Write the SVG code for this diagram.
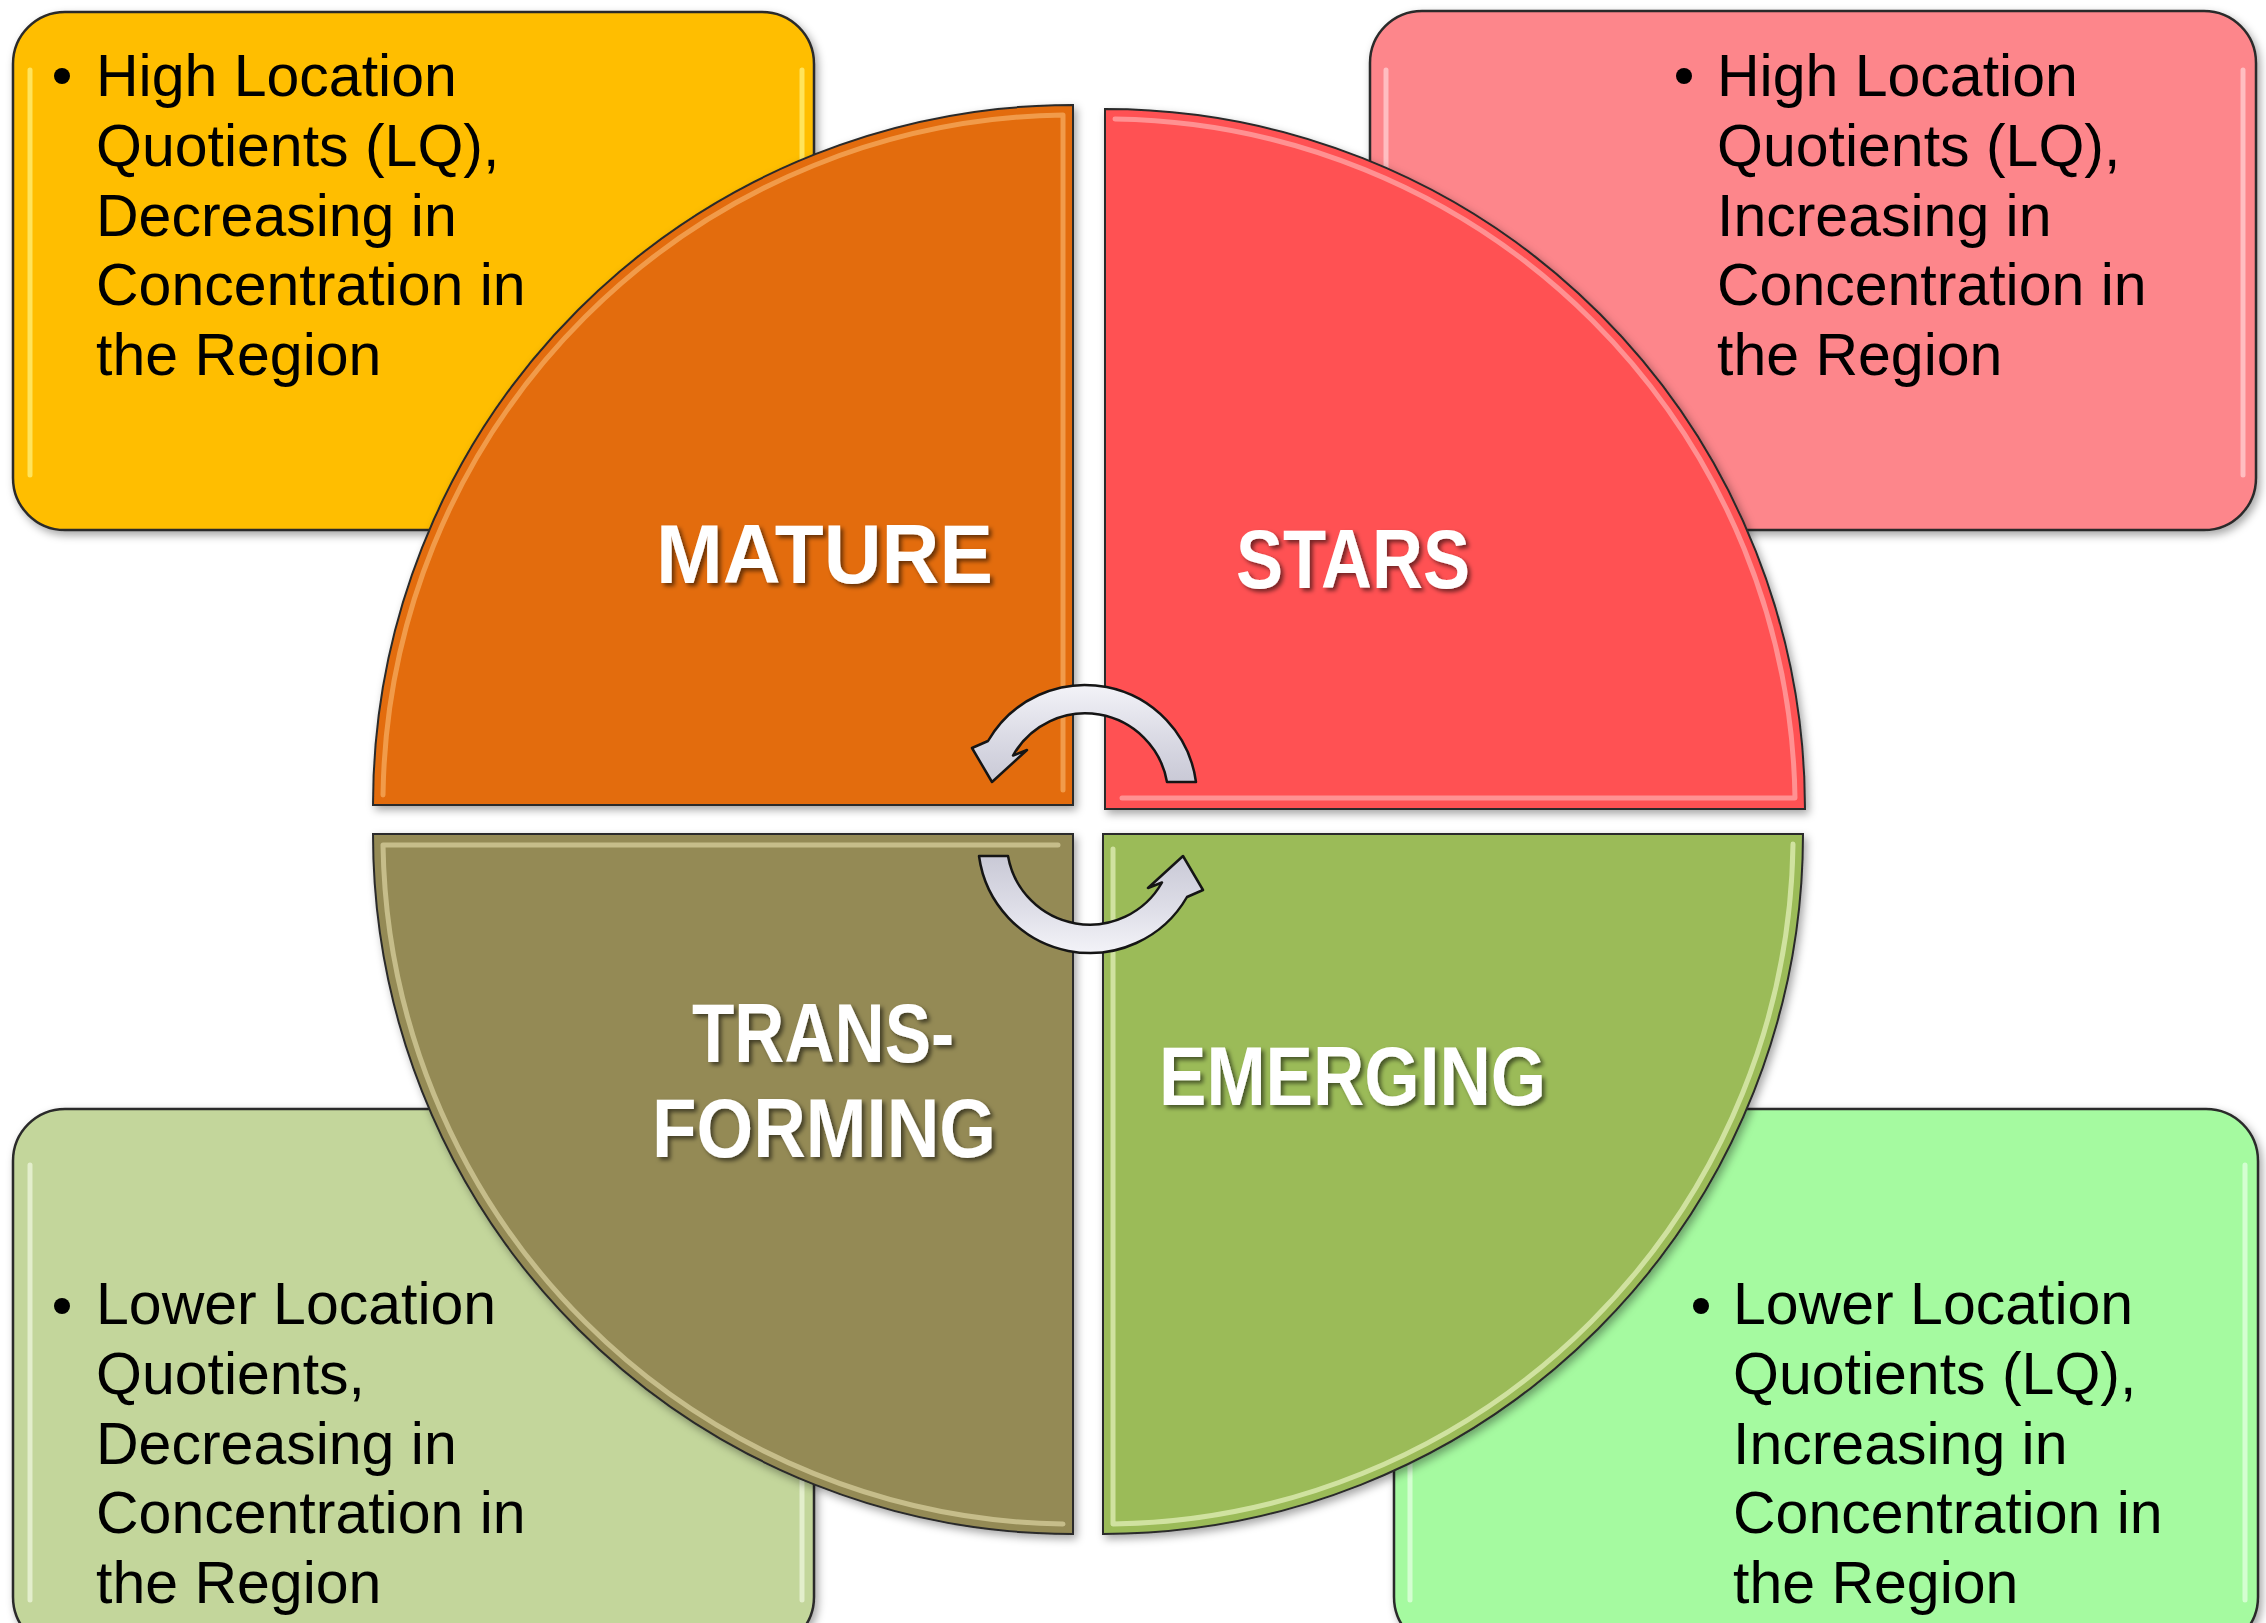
<svg xmlns="http://www.w3.org/2000/svg" width="2266" height="1623" viewBox="0 0 2266 1623">
<defs>
<filter id="shadow" x="-5%" y="-5%" width="110%" height="110%">
<feDropShadow dx="3" dy="4" stdDeviation="4" flood-color="#000" flood-opacity="0.35"/>
</filter>
<filter id="tshadow" x="-10%" y="-20%" width="120%" height="140%">
<feDropShadow dx="3" dy="3" stdDeviation="2" flood-color="#000" flood-opacity="0.55"/>
</filter>
<linearGradient id="arrowGrad" x1="0" y1="0" x2="0" y2="1">
<stop offset="0" stop-color="#f3f3f8"/>
<stop offset="0.5" stop-color="#dcdce6"/>
<stop offset="1" stop-color="#c9c9d6"/>
</linearGradient>
</defs>
<style>
.box{stroke:#2a2a2a;stroke-width:2.5}
.hl{fill:none;stroke-width:5;stroke-linecap:round;opacity:0.75}
.q{stroke:#2a2a2a;stroke-width:2}
.qhl{fill:none;stroke-width:5;opacity:0.65;stroke-linejoin:round;stroke-linecap:round}
.bt{font-family:"Liberation Sans",Arial,sans-serif;font-size:59px;fill:#000}
.lbl{font-family:"Liberation Sans",Arial,sans-serif;font-size:84px;font-weight:bold;fill:#fff}
.arrow{fill:url(#arrowGrad);stroke:#151515;stroke-width:2.5;stroke-linejoin:round}
</style>
<rect width="2266" height="1623" fill="#fff"/>

<g id="box-top-left" filter="url(#shadow)">
<rect class="box" x="13" y="12" width="801" height="518" rx="52" fill="#FFBE00"/>
<line class="hl" x1="30" y1="70" x2="30" y2="475" stroke="#fff07a"/>
<line class="hl" x1="802" y1="70" x2="802" y2="475" stroke="#fff07a"/>
</g>
<g id="box-top-right" filter="url(#shadow)">
<rect class="box" x="1370" y="11" width="886" height="519" rx="52" fill="#FD868B"/>
<line class="hl" x1="1386" y1="70" x2="1386" y2="475" stroke="#ffd0d3"/>
<line class="hl" x1="2243" y1="70" x2="2243" y2="475" stroke="#ffd0d3"/>
</g>
<g id="box-bottom-left" filter="url(#shadow)">
<rect class="box" x="13" y="1109" width="801" height="540" rx="52" fill="#C3D69B"/>
<line class="hl" x1="30" y1="1165" x2="30" y2="1600" stroke="#eef5dc"/>
<line class="hl" x1="802" y1="1165" x2="802" y2="1600" stroke="#eef5dc"/>
</g>
<g id="box-bottom-right" filter="url(#shadow)">
<rect class="box" x="1394" y="1109" width="864" height="540" rx="52" fill="#A5FAA0"/>
<line class="hl" x1="1410" y1="1165" x2="1410" y2="1600" stroke="#e4ffe2"/>
<line class="hl" x1="2245" y1="1165" x2="2245" y2="1600" stroke="#e4ffe2"/>
</g>

<g id="text-top-left">
<circle cx="62" cy="76" r="8" fill="#000"/>
<text class="bt" x="96" y="96">High Location</text>
<text class="bt" x="96" y="166">Quotients (LQ),</text>
<text class="bt" x="96" y="236">Decreasing in</text>
<text class="bt" x="96" y="305">Concentration in</text>
<text class="bt" x="96" y="375">the Region</text>
</g>
<g id="text-top-right">
<circle cx="1684" cy="76" r="8" fill="#000"/>
<text class="bt" x="1717" y="96">High Location</text>
<text class="bt" x="1717" y="166">Quotients (LQ),</text>
<text class="bt" x="1717" y="236">Increasing in</text>
<text class="bt" x="1717" y="305">Concentration in</text>
<text class="bt" x="1717" y="375">the Region</text>
</g>
<g id="text-bottom-left">
<circle cx="62" cy="1306" r="8" fill="#000"/>
<text class="bt" x="96" y="1324">Lower Location</text>
<text class="bt" x="96" y="1394">Quotients,</text>
<text class="bt" x="96" y="1464">Decreasing in</text>
<text class="bt" x="96" y="1533">Concentration in</text>
<text class="bt" x="96" y="1603">the Region</text>
</g>
<g id="text-bottom-right">
<circle cx="1701" cy="1306" r="8" fill="#000"/>
<text class="bt" x="1733" y="1324">Lower Location</text>
<text class="bt" x="1733" y="1394">Quotients (LQ),</text>
<text class="bt" x="1733" y="1464">Increasing in</text>
<text class="bt" x="1733" y="1533">Concentration in</text>
<text class="bt" x="1733" y="1603">the Region</text>
</g>

<g id="mature">
<path class="q" filter="url(#shadow)" d="M1073 805 L373 805 A700 700 0 0 1 1073 105 Z" fill="#E36C0E"/>
<path class="qhl" d="M1063 790 L1063 115 A690 690 0 0 0 383 795" stroke="#f9b56c"/>
<text class="lbl" x="656" y="583" textLength="337" lengthAdjust="spacingAndGlyphs" filter="url(#tshadow)">MATURE</text>
</g>
<g id="stars">
<path class="q" filter="url(#shadow)" d="M1105 809 L1105 109 A700 700 0 0 1 1805 809 Z" fill="#FF5152"/>
<path class="qhl" d="M1115 119 A690 690 0 0 1 1795 798 L1122 798" stroke="#ffb3b3"/>
<text class="lbl" x="1236" y="588" textLength="234" lengthAdjust="spacingAndGlyphs" filter="url(#tshadow)">STARS</text>
</g>
<g id="transforming">
<path class="q" filter="url(#shadow)" d="M1073 834 L1073 1534 A700 700 0 0 1 373 834 Z" fill="#948A54"/>
<path class="qhl" d="M1058 845 L383 845 A690 690 0 0 0 1063 1524" stroke="#e0d8a8"/>
<text class="lbl" x="692" y="1062" textLength="262" lengthAdjust="spacingAndGlyphs" filter="url(#tshadow)">TRANS-</text>
<text class="lbl" x="652" y="1157" textLength="344" lengthAdjust="spacingAndGlyphs" filter="url(#tshadow)">FORMING</text>
</g>
<g id="emerging">
<path class="q" filter="url(#shadow)" d="M1103 834 L1803 834 A700 700 0 0 1 1103 1534 Z" fill="#9BBB59"/>
<path class="qhl" d="M1793 844 A690 690 0 0 1 1113 1524 L1113 849" stroke="#ecf7c8"/>
<text class="lbl" x="1159" y="1105" textLength="387" lengthAdjust="spacingAndGlyphs" filter="url(#tshadow)">EMERGING</text>
</g>

<g id="connectors">
<path id="arrow-top" class="arrow" d="M1196 782 A112 112 0 0 0 988 741 L972 748 L992 782 L1027 750 L1013 755.5 A83 83 0 0 1 1167 782 Z"/>
<path id="arrow-bottom" class="arrow" transform="rotate(180 1087.5 819)" d="M1196 782 A112 112 0 0 0 988 741 L972 748 L992 782 L1027 750 L1013 755.5 A83 83 0 0 1 1167 782 Z"/>
</g>
</svg>
